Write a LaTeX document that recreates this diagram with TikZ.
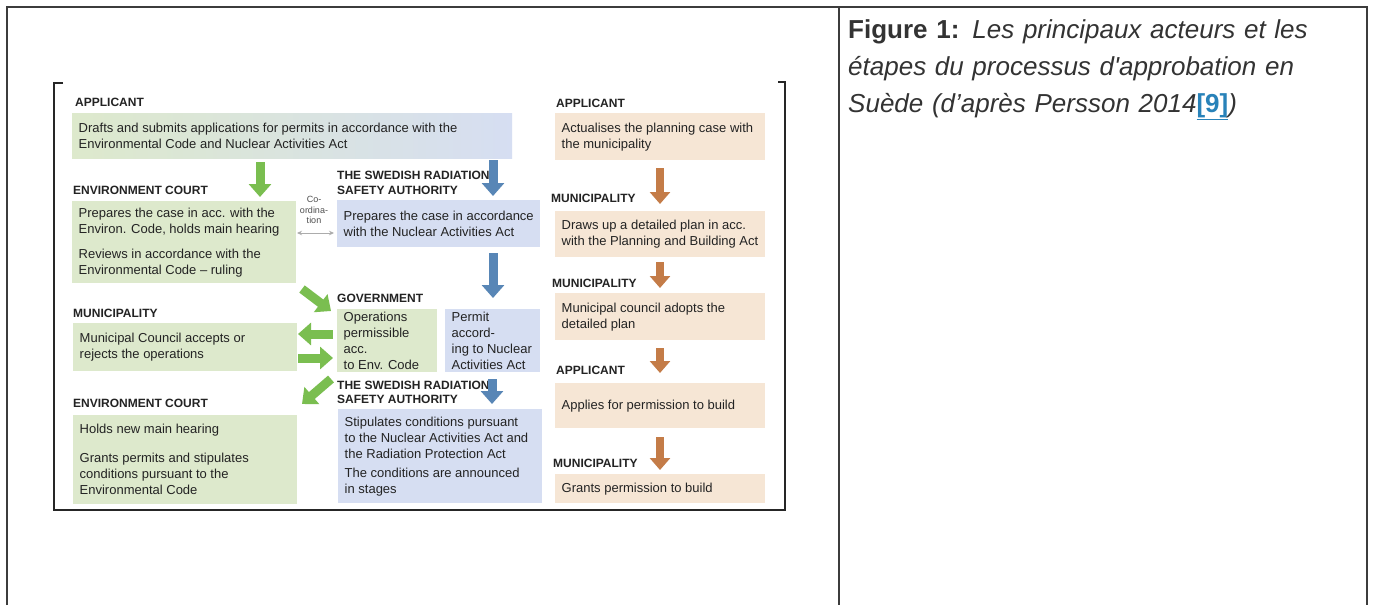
\documentclass[tikz,border=0pt]{standalone}
\usepackage{fontspec}
\usetikzlibrary{arrows.meta}
\newfontfamily\arial{Liberation Sans}
\definecolor{gfill}{RGB}{221,233,204}
\definecolor{bfill}{RGB}{214,222,242}
\definecolor{ofill}{RGB}{246,230,213}
\definecolor{garrc}{RGB}{122,190,80}
\definecolor{barrc}{RGB}{88,134,182}
\definecolor{oarrc}{RGB}{196,124,72}
\definecolor{txt}{RGB}{35,35,35}
\definecolor{captxt}{RGB}{51,51,51}
\definecolor{linkc}{RGB}{40,130,185}
\definecolor{rulec}{RGB}{60,60,60}
% name, style, x, y, w, h, text
\newcommand\tbox[7]{%
  \node[#2, anchor=north west, inner sep=0pt, minimum width=#5pt, minimum height=#6pt] (#1) at (#3,#4) {};
  \node[txtn] (#1t) at ([xshift=6.5pt]#1.west) {#7};}
\begin{document}
\begin{tikzpicture}[x=1pt,y=-1pt,
 txtn/.style={anchor=west, inner sep=0pt, align=left, font=\arial\fontsize{13}{16}\selectfont, text=txt},
 gbx/.style={fill=gfill},
 bbx/.style={fill=bfill},
 obx/.style={fill=ofill},
 gbbx/.style={left color=gfill, right color=bfill},
 lbl/.style={anchor=base west, inner sep=0pt, font=\arial\bfseries\fontsize{12}{14}\selectfont, text=txt},
 garr/.style={line width=9pt, -{Triangle[width=22pt,length=13pt]}, draw=garrc},
 barr/.style={line width=9pt, -{Triangle[width=22pt,length=13pt]}, draw=barrc},
 oarr/.style={line width=8pt, -{Triangle[width=20pt,length=12pt]}, draw=oarrc},
 coarr/.style={draw=gray!65, line width=1pt, {Stealth[length=5pt,width=4.5pt]}-{Stealth[length=5pt,width=4.5pt]}},
 frame/.style={draw=black!85, line width=1.6pt},
 tbl/.style={draw=rulec, line width=1.6pt}]

\path[use as bounding box, fill=white] (0,0) rectangle (1375,605);

% table
\draw[tbl] (7,605) -- (7,7) -- (1367,7) -- (1367,605);
\draw[tbl] (839,7) -- (839,605);

% inner frame
\draw[frame] (63,83) -- (54,83) -- (54,510) -- (785,510) -- (785,82) -- (778,82);

% left / middle column
\node[lbl] (l1) at (75,106) {APPLICANT};
\tbox{app1}{gbbx}{72}{113}{440}{45}{Drafts and submits applications for permits in accordance with the\\Environmental Code and Nuclear Activities Act}

\node[lbl] (l2) at (73,194) {ENVIRONMENT COURT};
\tbox{ec1}{gbx}{72}{201}{224}{82}{Prepares the case in acc. with the\\Environ. Code, holds main hearing\\[9pt]Reviews in accordance with the\\Environmental Code – ruling}

\node[lbl] (l3a) at (337,179) {THE SWEDISH RADIATION};
\node[lbl] (l3b) at (337,194) {SAFETY AUTHORITY};
\tbox{sr1}{bbx}{337}{200}{203}{47}{Prepares the case in accordance\\with the Nuclear Activities Act}

\node[align=center, inner sep=0pt, font=\arial\fontsize{9}{10.5}\selectfont, text=txt!80] (coord) at (314,210) {Co-\\ordina-\\tion};
\coordinate (coL) at (297,233);
\coordinate (coR) at (334,233);
\draw[coarr] (coL) -- (coR);

\node[lbl] (l4) at (337,302) {GOVERNMENT};
\tbox{gov}{gbx}{337}{309}{100}{63}{Operations\\permissible\\acc.\\to Env. Code}
\tbox{perm}{bbx}{445}{309}{95}{63}{Permit\\accord-\\ing to Nuclear\\Activities Act}

\node[lbl] (l5) at (73,317) {MUNICIPALITY};
\tbox{mun1}{gbx}{73}{323}{224}{48}{Municipal Council accepts or\\rejects the operations}

\node[lbl] (l6a) at (337,389) {THE SWEDISH RADIATION};
\node[lbl] (l6b) at (337,403) {SAFETY AUTHORITY};
\tbox{sr2}{bbx}{338}{409}{204}{94}{Stipulates conditions pursuant\\to the Nuclear Activities Act and\\the Radiation Protection Act\\[3pt]The conditions are announced\\in stages}

\node[lbl] (l7) at (73,407) {ENVIRONMENT COURT};
\tbox{ec2}{gbx}{73}{415}{224}{89}{Holds new main hearing\\[13pt]Grants permits and stipulates\\conditions pursuant to the\\Environmental Code}

% left arrows
\coordinate (g1s) at (260,162); \coordinate (g1e) at (260,197);
\draw[garr] (g1s) -- (g1e);
\coordinate (b1s) at (493,160); \coordinate (b1e) at (493,196);
\draw[barr] (b1s) -- (b1e);
\coordinate (b2s) at (493,253); \coordinate (b2e) at (493,298);
\draw[barr] (b2s) -- (b2e);
\coordinate (g2s) at (302,289); \coordinate (g2e) at (331,311);
\draw[garr] (g2s) -- (g2e);
\coordinate (g3s) at (333,334); \coordinate (g3e) at (298,334);
\draw[garr] (g3s) -- (g3e);
\coordinate (g4s) at (298,358); \coordinate (g4e) at (333,358);
\draw[garr] (g4s) -- (g4e);
\coordinate (g5s) at (331,379); \coordinate (g5e) at (302,404);
\draw[garr] (g5s) -- (g5e);
\coordinate (b3s) at (492,379); \coordinate (b3e) at (492,404);
\draw[barr] (b3s) -- (b3e);

% right column
\node[lbl] (r1) at (556,107) {APPLICANT};
\tbox{ra}{obx}{555}{113}{210}{47}{Actualises the planning case with\\the municipality}
\node[lbl] (r2) at (551,202) {MUNICIPALITY};
\tbox{rb}{obx}{555}{211}{210}{46}{Draws up a detailed plan in acc.\\with the Planning and Building Act}
\node[lbl] (r3) at (552,287) {MUNICIPALITY};
\tbox{rc}{obx}{555}{293}{210}{47}{Municipal council adopts the\\detailed plan}
\node[lbl] (r4) at (556,374) {APPLICANT};
\tbox{rd}{obx}{555}{383}{210}{45}{Applies for permission to build}
\node[lbl] (r5) at (553,467) {MUNICIPALITY};
\tbox{re}{obx}{555}{474}{210}{29}{Grants permission to build}

\coordinate (o1s) at (660,168); \coordinate (o1e) at (660,204);
\draw[oarr] (o1s) -- (o1e);
\coordinate (o2s) at (660,262); \coordinate (o2e) at (660,288);
\draw[oarr] (o2s) -- (o2e);
\coordinate (o3s) at (660,348); \coordinate (o3e) at (660,373);
\draw[oarr] (o3s) -- (o3e);
\coordinate (o4s) at (660,437); \coordinate (o4e) at (660,470);
\draw[oarr] (o4s) -- (o4e);

% caption
\node[anchor=north west, inner sep=0pt, align=left, text width=515pt, text=captxt,
  font=\arial\fontsize{26}{37}\selectfont] (cap) at (848,19)
  {{\bfseries Figure 1:} {\itshape Les principaux acteurs et les\\étapes du processus d'approbation en\\Suède (d’après Persson 2014\textup{\bfseries\color{linkc}\underline{[9]}})}};
\end{tikzpicture}
\end{document}
